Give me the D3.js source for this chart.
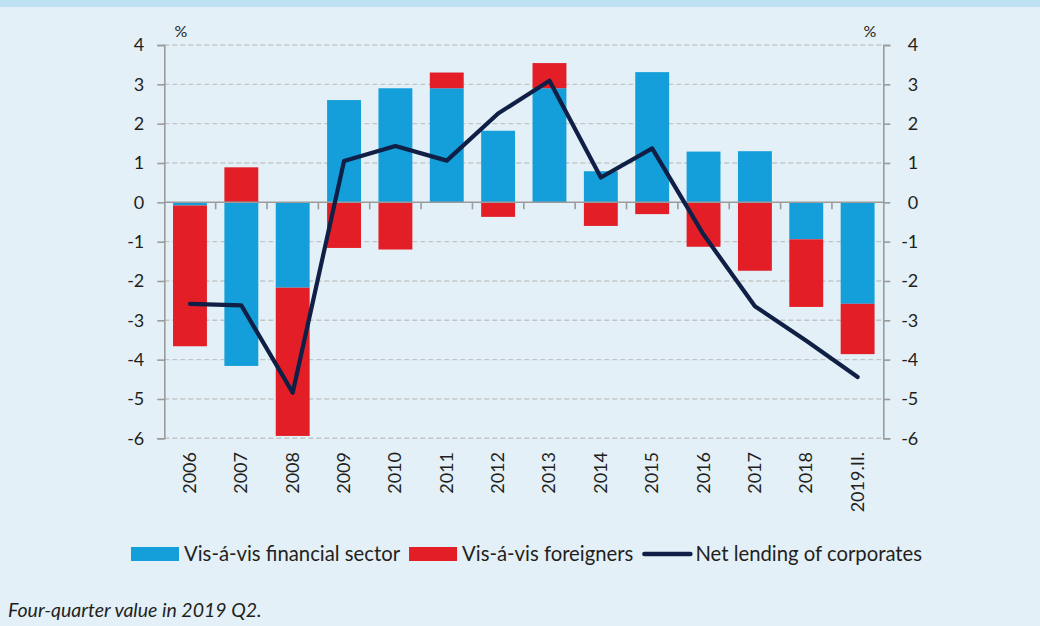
<!DOCTYPE html>
<meta charset="utf-8">
<script src="https://d3js.org/d3.v7.min.js"></script>
<style>
  body { margin: 0; background: #e3f0f7; }
  text { font-family: 'Lato', 'Open Sans', sans-serif; fill: #231f20; }
</style>
<div id="chart"></div>
<script>
// data
const years = ["2006", "2007", "2008", "2009", "2010", "2011", "2012", "2013", "2014", "2015", "2016", "2017", "2018", "2019.II."];
const financial = [-0.08, -4.16, -2.17, 2.60, 2.90, 2.90, 1.82, 2.90, 0.79, 3.31, 1.29, 1.30, -0.94, -2.58];
const foreigners = [-3.58, 0.89, -3.77, -1.16, -1.20, 0.40, -0.37, 0.64, -0.60, -0.30, -1.13, -1.74, -1.72, -1.28];
const netLending = [-2.58, -2.62, -4.84, 1.05, 1.43, 1.06, 2.26, 3.09, 0.63, 1.37, -0.82, -2.64, -3.52, -4.44];
const yTicks = [-6, -5, -4, -3, -2, -1, 0, 1, 2, 3, 4];

const W = 1040, H = 626;
const blue = "#159fda", red = "#e31e26", navy = "#0f1f45", axisCol = "#9b9b9b";

const svg = d3.select("#chart").append("svg")
  .attr("width", W).attr("height", H);

// background + header strip
svg.append("rect").attr("width", W).attr("height", H).attr("fill", "#e3f0f7");
svg.append("rect").attr("width", W).attr("height", 7).attr("fill", "#bde0f3");

const x = d3.scaleBand().domain(years)
  .range([164.3, 883.3]).paddingInner(0.34).paddingOuter(0.17);
const y = d3.scaleLinear().domain([-6, 4]).range([438.3, 45]);

// gridlines
svg.append("g").selectAll("line")
  .data(yTicks.filter(d => d !== 0))
  .enter().append("line")
    .attr("x1", 164.3).attr("x2", 883.3)
    .attr("y1", d => y(d)).attr("y2", d => y(d))
    .attr("stroke", "#c2c6c9").attr("stroke-width", 1.4)
    .attr("stroke-dasharray", "5,3");

// stacked bars: financial from 0, foreigners stacked on same sign side
const stack = years.map((yr, i) => {
  const f = financial[i], g = foreigners[i];
  const fb = [Math.min(0, f), Math.max(0, f)];
  let gb;
  if ((g < 0) === (f < 0)) gb = f < 0 ? [f + g, f] : [f, f + g];
  else gb = [Math.min(0, g), Math.max(0, g)];
  return { yr, fb, gb };
});

svg.append("g").selectAll("rect")
  .data(stack).enter().append("rect")
    .attr("x", d => x(d.yr)).attr("width", x.bandwidth())
    .attr("y", d => y(d.fb[1])).attr("height", d => y(d.fb[0]) - y(d.fb[1]))
    .attr("fill", blue);
svg.append("g").selectAll("rect")
  .data(stack).enter().append("rect")
    .attr("x", d => x(d.yr)).attr("width", x.bandwidth())
    .attr("y", d => y(d.gb[1])).attr("height", d => y(d.gb[0]) - y(d.gb[1]))
    .attr("fill", red);

// axes
const left = svg.append("g").attr("transform", "translate(164.3,0)")
  .call(d3.axisLeft(y).tickValues(yTicks).tickSize(7).tickPadding(13).tickFormat(d3.format("d")));
const right = svg.append("g").attr("transform", "translate(883.3,0)")
  .call(d3.axisRight(y).tickValues(yTicks).tickSize(7).tickPadding(17).tickFormat(d3.format("d")));
[left, right].forEach(a => {
  a.select(".domain").attr("stroke", axisCol).attr("stroke-width", 1.6);
  a.selectAll(".tick line").attr("stroke", axisCol).attr("stroke-width", 1.6);
  a.selectAll(".tick text").style("font-size", "18px").attr("fill", "#231f20")
    .style("font-family", "Lato, sans-serif").text(d => d < 0 ? "-" + Math.abs(d) : d);
});
right.selectAll(".tick text").attr("text-anchor", "end").attr("x", 35);

// zero line with category ticks
svg.append("line").attr("x1", 164.3).attr("x2", 883.3)
  .attr("y1", y(0)).attr("y2", y(0))
  .attr("stroke", axisCol).attr("stroke-width", 1.6);
svg.append("g").selectAll("line")
  .data(years.slice(1)).enter().append("line")
    .attr("x1", d => x(d) - x.step() * 0.17).attr("x2", d => x(d) - x.step() * 0.17)
    .attr("y1", y(0)).attr("y2", y(0) + 7)
    .attr("stroke", axisCol).attr("stroke-width", 1.6);

// category labels
svg.append("g").selectAll("text")
  .data(years).enter().append("text")
    .attr("transform", d => `translate(${x(d) + x.bandwidth() / 2 + 6},452) rotate(-90)`)
    .attr("text-anchor", "end")
    .style("font-size", "18px")
    .text(d => d);

// net lending line
svg.append("path")
  .datum(netLending)
  .attr("fill", "none").attr("stroke", navy).attr("stroke-width", 4.2)
  .attr("stroke-linejoin", "round").attr("stroke-linecap", "round")
  .attr("d", d3.line().x((d, i) => x(years[i]) + x.bandwidth() / 2).y(d => y(d)));

// unit labels
svg.append("text").attr("x", 181).attr("y", 37).attr("text-anchor", "middle").style("font-size", "16px").text("%");
svg.append("text").attr("x", 870).attr("y", 37).attr("text-anchor", "middle").style("font-size", "16px").text("%");

// legend
const legend = [
  { label: "Vis-á-vis financial sector", type: "bar", color: blue },
  { label: "Vis-á-vis foreigners", type: "bar", color: red },
  { label: "Net lending of corporates", type: "line", color: navy }
];
let lx = 131;
legend.forEach(item => {
  if (item.type === "bar") {
    svg.append("rect").attr("x", lx).attr("y", 547).attr("width", 48).attr("height", 14).attr("fill", item.color);
  } else {
    svg.append("line").attr("x1", lx + 2).attr("x2", lx + 48).attr("y1", 554).attr("y2", 554)
      .attr("stroke", item.color).attr("stroke-width", 4.5).attr("stroke-linecap", "round");
  }
  const t = svg.append("text").attr("x", lx + 53).attr("y", 561).style("font-size", "20.3px").text(item.label);
  lx += 53 + t.node().getComputedTextLength() + 9;
});

// footnote
svg.append("text").attr("x", 8).attr("y", 617)
  .style("font-size", "19.5px").style("font-style", "italic")
  .text("Four-quarter value in 2019 Q2.");
</script>
